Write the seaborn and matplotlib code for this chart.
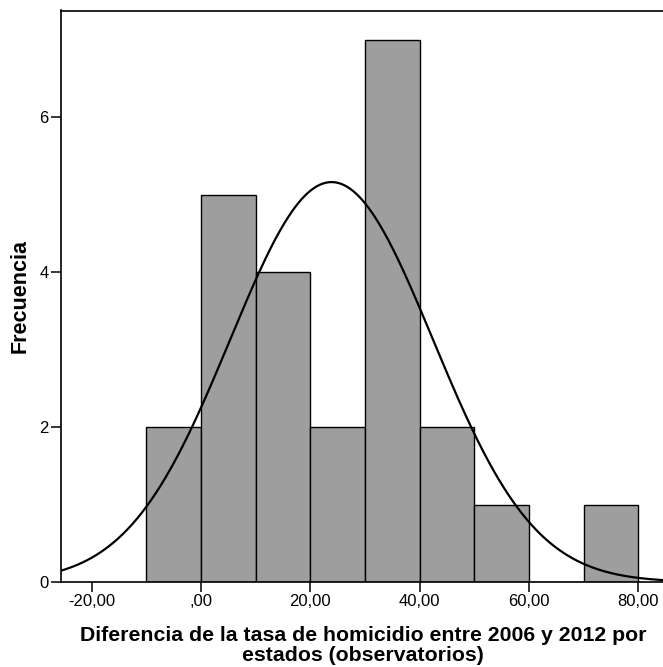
import numpy as np
import pandas as pd
import matplotlib
matplotlib.use("Agg")
import matplotlib.pyplot as plt
import seaborn as sns

# Data
bin_edges = [-10, 0, 10, 20, 30, 40, 50, 60, 70, 80]
bin_centers = [-5, 5, 15, 25, 35, 45, 55, 65, 75]
counts = [2, 5, 4, 2, 7, 2, 1, 0, 1]
curve_mean = 23.9
curve_sd = 18.54
x_ticks = [-20, 0, 20, 40, 60, 80]
x_tick_labels = ["-20,00", ",00", "20,00", "40,00", "60,00", "80,00"]
y_ticks = [0, 2, 4, 6]
x_label = "Diferencia de la tasa de homicidio entre 2006 y 2012 por\nestados (observatorios)"
y_label = "Frecuencia"

sns.set_style("white")
plt.rcParams["font.family"] = ["Liberation Sans", "DejaVu Sans"]
plt.rcParams["text.color"] = "black"
plt.rcParams["axes.labelcolor"] = "black"

fig = plt.figure(figsize=(6.63, 6.67), dpi=100)
ax = fig.add_axes([61 / 663, 1 - 582 / 667, 604 / 663, (582 - 10.5) / 667])

df = pd.DataFrame({"x": bin_centers, "n": counts})
sns.histplot(data=df, x="x", weights="n", bins=bin_edges, ax=ax,
             color="#9e9e9e", alpha=1.0, edgecolor="black", linewidth=1.0)

n_total = sum(counts)
width = bin_edges[1] - bin_edges[0]
xs = np.linspace(-26, 86, 400)
ys = n_total * width / (curve_sd * np.sqrt(2 * np.pi)) * np.exp(-0.5 * ((xs - curve_mean) / curve_sd) ** 2)
sns.lineplot(x=xs, y=ys, ax=ax, color="black", linewidth=1.6)

ax.set_xlim(-25.6, 84.9)
ax.set_ylim(0, 7.38)
ax.set_xticks(x_ticks)
ax.set_xticklabels(x_tick_labels)
ax.set_yticks(y_ticks)
ax.set_yticklabels([str(v) for v in y_ticks])
ax.tick_params(axis="both", direction="out", length=7, width=1.1, labelsize=12,
               colors="black", pad=2, left=True, bottom=True)

for side in ["left", "bottom", "top"]:
    ax.spines[side].set_visible(True)
    ax.spines[side].set_color("black")
    ax.spines[side].set_linewidth(1.2)
ax.spines["right"].set_visible(False)

ax.set_xlabel(x_label, fontsize=15.3, fontweight="bold", labelpad=12, linespacing=1.08,
              color="black")
ax.set_ylabel(y_label, fontsize=15.5, fontweight="bold", labelpad=6, color="black")

fig.savefig("out.png", dpi=100)
